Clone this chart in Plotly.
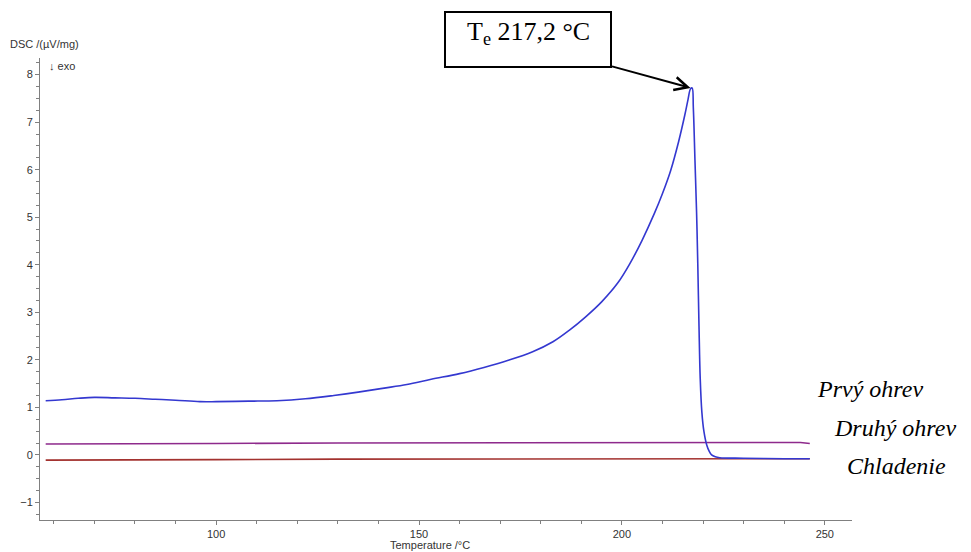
import plotly.graph_objects as go

# Prvý ohrev (first heating) - blue
t_prvy = [58, 62, 66, 70, 75, 80, 85, 90, 96, 100, 108, 115, 122, 129, 135, 141, 147, 153,
          160, 166, 172, 178, 183, 187, 191, 195, 199, 202, 205, 208, 210, 212, 214, 215.5,
          216.3, 216.9, 217.3, 217.6, 218.0, 218.4, 218.7, 219.0, 219.3, 219.7, 220.2, 220.9,
          221.5, 222.1, 223.0, 224.1, 230, 240, 246.3]
dsc_prvy = [1.14, 1.16, 1.19, 1.21, 1.20, 1.19, 1.17, 1.15, 1.12, 1.12, 1.13, 1.14, 1.18, 1.25,
            1.32, 1.40, 1.48, 1.59, 1.71, 1.84, 1.99, 2.17, 2.38, 2.62, 2.90, 3.22, 3.62, 4.03,
            4.52, 5.08, 5.50, 5.98, 6.60, 7.15, 7.48, 7.70, 7.72, 7.30, 6.20, 5.10, 4.00, 2.70,
            1.60, 0.90, 0.50, 0.21, 0.08, 0.00, -0.04, -0.06, -0.07, -0.08, -0.08]

# Druhý ohrev (second heating) - purple
t_druhy = [58, 80, 100, 130, 160, 190, 220, 240, 244, 246.3]
dsc_druhy = [0.23, 0.23, 0.24, 0.25, 0.25, 0.26, 0.26, 0.26, 0.26, 0.24]

# Chladenie (cooling) - brown
t_chlad = [58, 80, 100, 130, 160, 190, 220, 246.3]
dsc_chlad = [-0.11, -0.11, -0.10, -0.09, -0.09, -0.085, -0.08, -0.08]

x_ticks = [100, 150, 200, 250]
y_ticks = [-1, 0, 1, 2, 3, 4, 5, 6, 7, 8]

fig = go.Figure()
fig.add_trace(go.Scatter(x=t_druhy, y=dsc_druhy, mode="lines",
                         line=dict(color="#8e2a8c", width=1.6), name="Druhý ohrev"))
fig.add_trace(go.Scatter(x=t_chlad, y=dsc_chlad, mode="lines",
                         line=dict(color="#a3322f", width=1.6), name="Chladenie"))
fig.add_trace(go.Scatter(x=t_prvy, y=dsc_prvy, mode="lines", line_shape="spline",
                         line=dict(color="#3438d0", width=1.6), name="Prvý ohrev"))

axis_font = dict(family="Arial, Liberation Sans, sans-serif", size=11, color="#333333")

fig.update_layout(
    width=963, height=544,
    margin=dict(l=32, r=119, t=50, b=32, autoexpand=False),
    paper_bgcolor="white", plot_bgcolor="white",
    showlegend=False,
    xaxis=dict(range=[56.6, 256.7], tickvals=x_ticks, showgrid=False, zeroline=False,
               showline=True, linecolor="#808080", linewidth=1,
               ticks="outside", ticklen=4, tickcolor="#808080", tickfont=axis_font,
               minor=dict(dtick=10, tick0=0, ticks="outside", ticklen=3, tickcolor="#808080")),
    yaxis=dict(range=[-1.37, 8.35], tickvals=y_ticks, showgrid=False, zeroline=False,
               showline=True, linecolor="#808080", linewidth=1,
               ticks="outside", ticklen=4, tickcolor="#808080", tickfont=axis_font,
               minor=dict(dtick=0.25, tick0=0, ticks="outside", ticklen=3, tickcolor="#808080")),
)

serif = "Liberation Serif, Times New Roman, serif"
annotations = [
    dict(text="DSC /(µV/mg)", xref="paper", yref="paper", x=-0.0394, y=1.0303,
         xanchor="left", yanchor="middle", showarrow=False, font=axis_font),
    dict(text="↓ exo", xref="paper", yref="paper", x=0.0086, y=0.9827,
         xanchor="left", yanchor="middle", showarrow=False, font=axis_font),
    dict(text="Temperature /°C", xref="paper", yref="paper", x=0.48, y=-0.054,
         xanchor="center", yanchor="middle", showarrow=False, font=axis_font),
    dict(text="<i>Prvý ohrev</i>", xref="paper", yref="paper", x=0.9544, y=0.2835,
         xanchor="left", yanchor="middle", showarrow=False,
         font=dict(family=serif, size=24, color="black")),
    dict(text="<i>Druhý ohrev</i>", xref="paper", yref="paper", x=0.9754, y=0.199,
         xanchor="left", yanchor="middle", showarrow=False,
         font=dict(family=serif, size=24, color="black")),
    dict(text="<i>Chladenie</i>", xref="paper", yref="paper", x=0.9914, y=0.117,
         xanchor="left", yanchor="middle", showarrow=False,
         font=dict(family=serif, size=24, color="black")),
    dict(text="T<sub>e</sub> 217,2 °C", xref="paper", yref="paper", x=0.6010, y=1.0541,
         xanchor="center", yanchor="middle", showarrow=False,
         font=dict(family=serif, size=26, color="black")),
    dict(text="", x=216.9, y=7.72, xref="x", yref="y", showarrow=True,
         ax=-80, ay=-22, axref="pixel", ayref="pixel",
         arrowhead=5, arrowsize=1.3, arrowwidth=2, arrowcolor="black", standoff=0),
]
fig.update_layout(annotations=annotations)

fig.add_shape(type="rect", xref="paper", yref="paper",
              x0=(445 - 40) / 812, x1=(611 - 40) / 812,
              y0=(520 - 67) / 462, y1=(520 - 12) / 462,
              line=dict(color="black", width=2), fillcolor="white", layer="below")

fig.write_html("out.html")
